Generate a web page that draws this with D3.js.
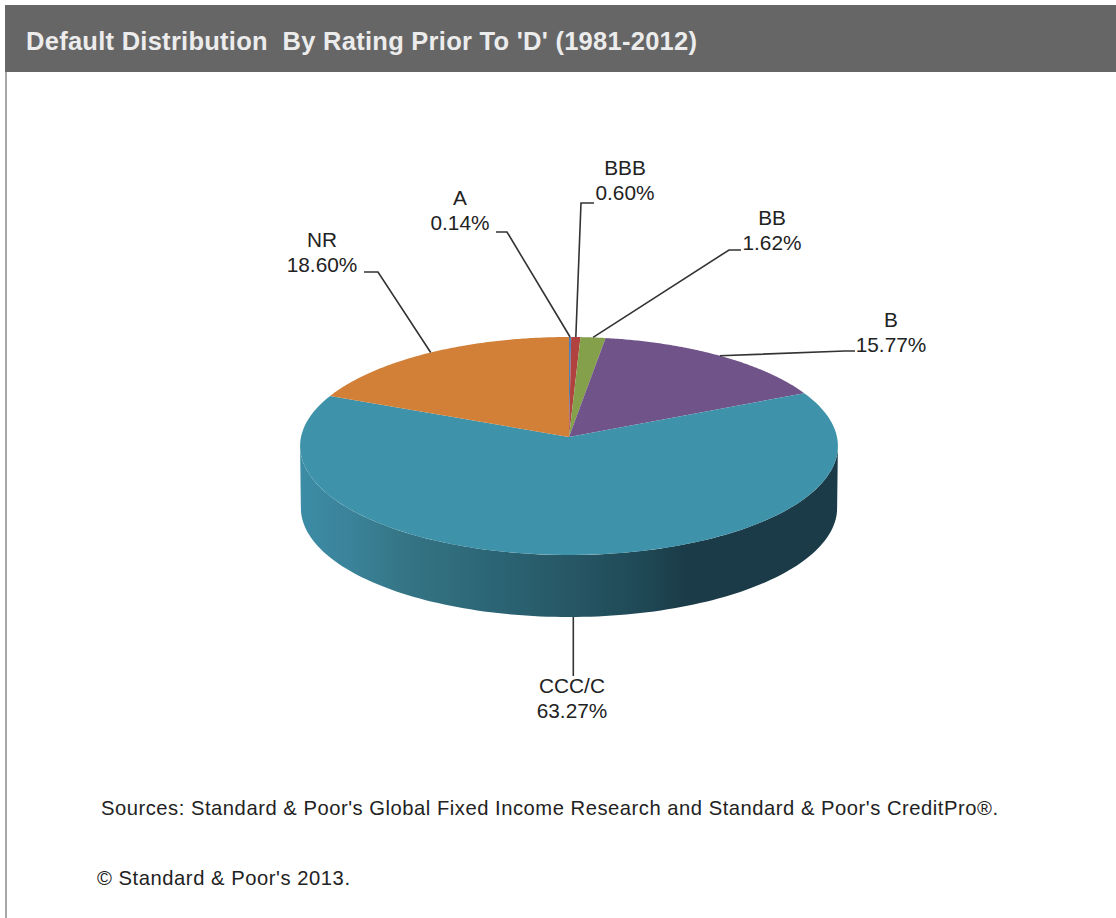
<!DOCTYPE html>
<html><head><meta charset="utf-8">
<script src="https://cdn.jsdelivr.net/npm/d3@7/dist/d3.min.js"></script>
<style>html,body{margin:0;padding:0;background:#fff}svg{display:block}text{font-family:"Liberation Sans",Arial,sans-serif}</style>
</head><body><svg id="c" width="1116" height="918"></svg>
<script>
const categories = ["A","BBB","BB","B","CCC/C","NR"];
const values = [0.14,0.60,1.62,15.77,63.27,18.60];
const valueLabels = ["0.14%","0.60%","1.62%","15.77%","63.27%","18.60%"];
const colors = ["#4f81bd","#b0423f","#84a04b","#6f5389","#3e92aa","#d27f38"];
const titleText = "Default Distribution  By Rating Prior To 'D' (1981-2012)";
const sourceText = "Sources: Standard & Poor's Global Fixed Income Research and Standard & Poor's CreditPro®.";
const copyText = "© Standard & Poor's 2013.";

const svg = d3.select("#c");
const cx=569, cy=437, B=268, A=108.26, p=0.0826, depth=62, taper=.997;
const project=(a,r=1,dy=0,k=1)=>{const u=Math.sin(a)*r,v=-Math.cos(a)*r,s=1/(1-p*v);return [cx+B*u*s*k,cy+A*v*s+dy];};
const pie=d3.pie().value(d=>d).sort(null)(values);
const line=d3.line();
const arcPts=(s,e,dy=0,k=1)=>d3.range(0,121).map(i=>project(s+(e-s)*i/120,1,dy,k));
const silhouette=Math.acos(-p);

// layout of leader elbows and labels (pixels), by category order
const elbow=[[507,232],[581,203],[729,250],[845,351],null,[378,272]];
const stub=[[496,232],[594,203],[741,250],[855,351],null,[364,272]];
const labelPos=[[460,205],[625,175],[772,225],[891,327],[572,693],[322,247]];

// frame
const defs=svg.append("defs");
const grad=defs.append("linearGradient").attr("id","side").attr("gradientUnits","userSpaceOnUse")
 .attr("x1",300).attr("x2",838).attr("y1",0).attr("y2",0);
[[0,"#3c8ca6"],[.1,"#3a8298"],[.2,"#347484"],[.36,"#2b6575"],[.5,"#275765"],[.64,"#1f4855"],[.72,"#1a3b47"],[1,"#1a3b47"]]
 .forEach(([o,c])=>grad.append("stop").attr("offset",o).attr("stop-color",c));

svg.append("rect").attr("x",5).attr("y",72).attr("width",1111).attr("height",846).attr("fill","#fff");
svg.append("line").attr("x1",6).attr("x2",6).attr("y1",72).attr("y2",918).attr("stroke","#8a8a8a").attr("stroke-width",1.5);
svg.append("rect").attr("x",5).attr("y",5).attr("width",1111).attr("height",67).attr("fill","#666");
svg.append("text").attr("x",26).attr("y",50).attr("font-size",25.5).attr("font-weight","bold").attr("fill","#ececec")
 .attr("xml:space","preserve").attr("textLength",671).attr("lengthAdjust","spacing").text(titleText);

// sides: only the part of each slice facing the viewer, between the silhouette angles
const g=svg.append("g");
pie.forEach((d,i)=>{
  const s=Math.max(d.startAngle,silhouette), e=Math.min(d.endAngle,2*Math.PI-silhouette);
  if(e<=s) return;
  const top=arcPts(s,e), bot=arcPts(s,e,depth,taper).reverse();
  g.append("path").attr("d",line(top.concat(bot))+"Z").attr("fill",categories[i]==="CCC/C"?"url(#side)":colors[i]);
});
// top faces
pie.forEach((d,i)=>{
  const pts=[[cx,cy]].concat(arcPts(d.startAngle,d.endAngle));
  g.append("path").attr("d",line(pts)+"Z").attr("fill",colors[i]);
});
// leaders
pie.forEach((d,i)=>{
  const mid=(d.startAngle+d.endAngle)/2;
  const start=categories[i]==="CCC/C"?project(mid,1,depth,taper):project(mid);
  const pts=elbow[i]?[start,elbow[i],stub[i]]:[start,[start[0],labelPos[i][1]-17]];
  g.append("path").attr("d",line(pts)).attr("fill","none").attr("stroke","#333").attr("stroke-width",1.6);
});
// labels
categories.forEach((c,i)=>{
  const t=svg.append("text").attr("text-anchor","middle").attr("font-size",20.8).attr("fill","#222");
  t.append("tspan").attr("x",labelPos[i][0]).attr("y",labelPos[i][1]).text(c);
  t.append("tspan").attr("x",labelPos[i][0]).attr("y",labelPos[i][1]+24.5).text(valueLabels[i]);
});
svg.append("text").attr("x",101).attr("y",815).attr("font-size",20.2).attr("fill","#222").attr("textLength",897).attr("lengthAdjust","spacing").text(sourceText);
svg.append("text").attr("x",97).attr("y",885).attr("font-size",20.2).attr("fill","#222").attr("textLength",253).attr("lengthAdjust","spacing").text(copyText);
</script></body></html>
